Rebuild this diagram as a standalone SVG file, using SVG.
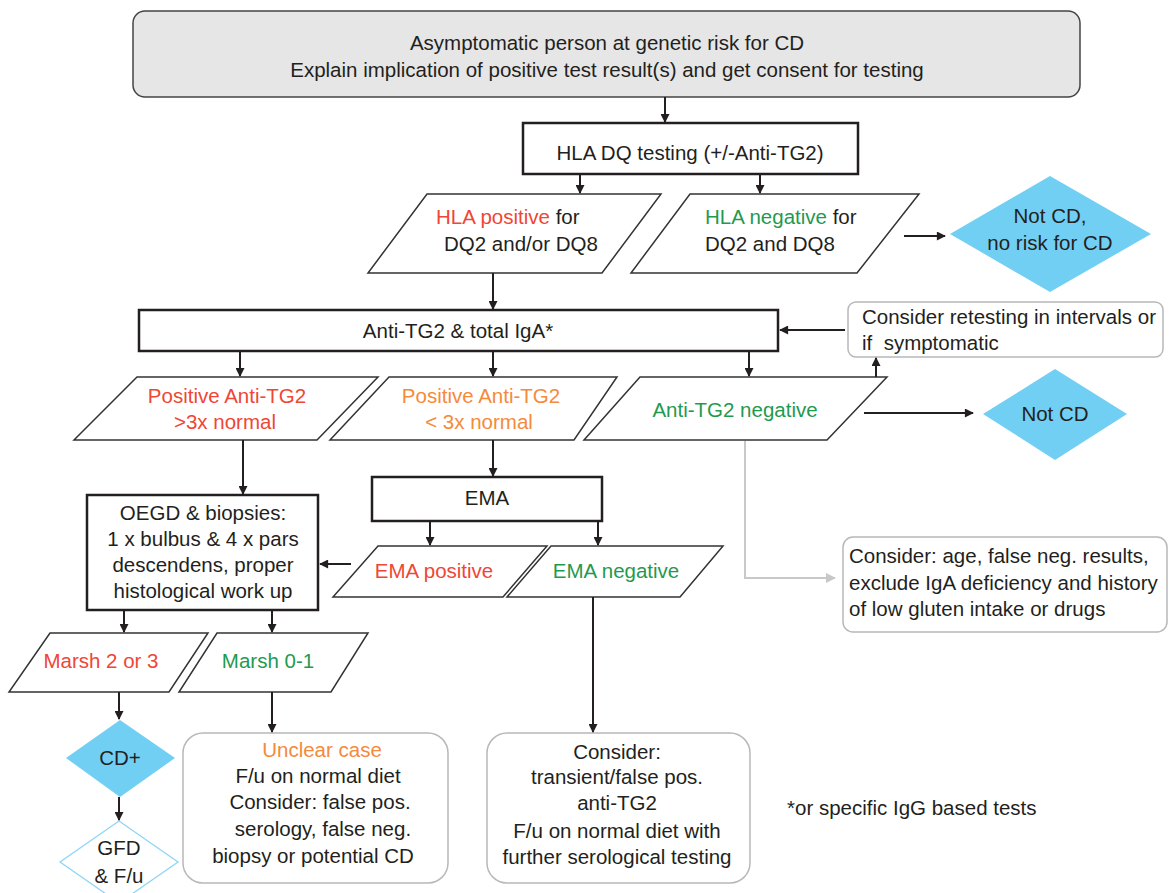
<svg xmlns="http://www.w3.org/2000/svg" width="1170" height="893" viewBox="0 0 1170 893">
<defs>
<marker id="ah" viewBox="0 0 10 10" refX="9" refY="5" markerWidth="10" markerHeight="9" markerUnits="userSpaceOnUse" orient="auto"><path d="M0,0 L10,5 L0,10 z" fill="#231f20"/></marker>
<marker id="ahg" viewBox="0 0 10 10" refX="9" refY="5" markerWidth="10" markerHeight="10" markerUnits="userSpaceOnUse" orient="auto"><path d="M0,0 L10,5 L0,10 z" fill="#c8c8c8"/></marker>
<style>
text{font-family:"Liberation Sans",Arial,sans-serif;font-size:20.5px;fill:#231f20}
.c{text-anchor:middle}
.red{fill:#ef4636}
.org{fill:#f58a3b}
.grn{fill:#1f9a4f}
.box{fill:#fff;stroke:#231f20;stroke-width:2.5}
.par{fill:#fff;stroke:#333;stroke-width:1.5}
.soft{fill:#fff;stroke:#b8b8b8;stroke-width:1.5}
.dia{fill:#72cff4;stroke:none}
.conn line,.conn polyline{stroke:#231f20;stroke-width:2;fill:none;marker-end:url(#ah)}
.conn .gray{stroke:#c8c8c8;marker-end:url(#ahg)}
</style>
</defs>
<rect width="1170" height="893" fill="#fff"/>
<g id="start"><rect x="133" y="11" width="947" height="86" rx="12" fill="#e6e6e6" stroke="#444" stroke-width="1.5"/>
<text class="c" x="607" y="50">Asymptomatic person at genetic risk for CD</text>
<text class="c" x="607" y="77">Explain implication of positive test result(s) and get consent for testing</text></g>
<g id="hla"><rect class="box" x="523" y="123" width="335" height="51"/><text class="c" x="690" y="160">HLA DQ testing (+/-Anti-TG2)</text></g>
<g id="hlapos"><polygon class="par" points="427,194 661,194 602,273 368,273"/>
<text x="436" y="224"><tspan class="red">HLA positive</tspan> for</text><text x="444" y="251">DQ2 and/or DQ8</text></g>
<g id="hlaneg"><polygon class="par" points="690,194 919,194 857,273 631,273"/>
<text x="705" y="224"><tspan class="grn">HLA negative</tspan> for</text><text x="705" y="251">DQ2 and DQ8</text></g>
<g id="notcd1"><polygon class="dia" points="1050,176 1151,234 1050,292 950,234"/>
<text class="c" x="1050" y="223">Not CD,</text><text class="c" x="1050" y="250">no risk for CD</text></g>
<g id="antitg2"><rect class="box" x="139" y="310" width="639" height="41"/><text class="c" x="458" y="338">Anti-TG2 &amp; total IgA*</text></g>
<g id="retest"><rect class="soft" x="848" y="302" width="315" height="55" rx="8"/>
<text x="862" y="324">Consider retesting in intervals or</text><text x="862" y="350" xml:space="preserve">if  symptomatic</text></g>
<g id="pos3"><polygon class="par" points="137,377 378,377 317,440 74,440"/>
<text class="c red" x="227" y="403">Positive Anti-TG2</text><text class="c red" x="225" y="429">&gt;3x normal</text></g>
<g id="poslt3"><polygon class="par" points="389,377 617,377 574,440 330,440"/>
<text class="c org" x="481" y="403">Positive Anti-TG2</text><text class="c org" x="479" y="429">&lt; 3x normal</text></g>
<g id="neg"><polygon class="par" points="640,377 887,377 827,440 584,440"/>
<text class="c grn" x="735" y="417">Anti-TG2 negative</text></g>
<g id="notcd2"><polygon class="dia" points="1055,369 1127,414 1055,460 983,414"/><text class="c" x="1055" y="421">Not CD</text></g>
<g id="consider2"><rect class="soft" x="843" y="537" width="324" height="95" rx="10"/>
<text x="849" y="563">Consider: age, false neg. results,</text><text x="849" y="590">exclude IgA deficiency and history</text><text x="849" y="616">of low gluten intake or drugs</text></g>
<g id="ema"><rect class="box" x="372" y="477" width="230" height="44"/><text class="c" x="487" y="505">EMA</text></g>
<g id="emapos"><polygon class="par" points="378,546 547,546 503,597 333,597"/><text class="c red" x="434" y="578">EMA positive</text></g>
<g id="emaneg"><polygon class="par" points="551,546 723,546 680,597 507,597"/><text class="c grn" x="616" y="578">EMA negative</text></g>
<g id="oegd"><rect class="box" x="87" y="495" width="231" height="115"/>
<text class="c" x="203" y="520">OEGD &amp; biopsies:</text><text class="c" x="203" y="546">1 x bulbus &amp; 4 x pars</text><text class="c" x="203" y="572">descendens, proper</text><text class="c" x="203" y="598">histological work up</text></g>
<g id="marsh23"><polygon class="par" points="50,633 208,633 169,692 9,692"/><text class="c red" x="101" y="668">Marsh 2 or 3</text></g>
<g id="marsh01"><polygon class="par" points="217,633 368,633 331,692 179,692"/><text class="c grn" x="268" y="668">Marsh 0-1</text></g>
<g id="cdplus"><polygon class="dia" points="120,720 175,758 120,797 66,758"/><text class="c" x="120" y="765">CD+</text></g>
<g id="gfd"><polygon points="119,821 178,862 119,903 60,862" fill="#fff" stroke="#8fd6f5" stroke-width="1.3"/>
<text class="c" x="119" y="855">GFD</text><text class="c" x="119" y="883">&amp; F/u</text></g>
<g id="unclear"><rect class="soft" x="183" y="733" width="265" height="150" rx="20"/>
<text class="c org" x="322" y="757">Unclear case</text><text class="c" x="318" y="783">F/u on normal diet</text><text class="c" x="320" y="809">Consider: false pos.</text><text class="c" x="323" y="836">serology, false neg.</text><text class="c" x="313" y="863">biopsy or potential CD</text></g>
<g id="consider3"><rect class="soft" x="487" y="733" width="263" height="150" rx="20"/>
<text class="c" x="617" y="759">Consider:</text><text class="c" x="617" y="784">transient/false pos.</text><text class="c" x="617" y="810">anti-TG2</text><text class="c" x="617" y="838">F/u on normal diet with</text><text class="c" x="617" y="864">further serological testing</text></g>
<g id="footnote"><text x="787" y="815">*or specific IgG based tests</text></g>
<g id="connectors" class="conn">
<line x1="665" y1="97" x2="665" y2="122"/>
<line x1="580" y1="174" x2="580" y2="193"/>
<line x1="760" y1="174" x2="760" y2="193"/>
<line x1="904" y1="236" x2="945" y2="236"/>
<line x1="493" y1="273" x2="493" y2="309"/>
<line x1="845" y1="330" x2="780" y2="330"/>
<line x1="240" y1="351" x2="240" y2="376"/>
<line x1="493" y1="351" x2="493" y2="376"/>
<line x1="749" y1="351" x2="749" y2="376"/>
<line x1="876" y1="377" x2="876" y2="358"/>
<line x1="864" y1="413" x2="973" y2="413"/>
<line x1="243" y1="440" x2="243" y2="494"/>
<line x1="493" y1="440" x2="493" y2="476"/>
<line x1="430" y1="521" x2="430" y2="545"/>
<line x1="598" y1="521" x2="598" y2="545"/>
<line x1="351" y1="564" x2="320" y2="564"/>
<line x1="124" y1="610" x2="124" y2="632"/>
<line x1="272" y1="610" x2="272" y2="632"/>
<line x1="593" y1="597" x2="593" y2="732"/>
<line x1="119" y1="692" x2="119" y2="719"/>
<line x1="119" y1="797" x2="119" y2="820"/>
<line x1="272" y1="692" x2="272" y2="732"/>
<polyline class="gray" points="745,441 745,578 835,578"/>
</g>
</svg>
